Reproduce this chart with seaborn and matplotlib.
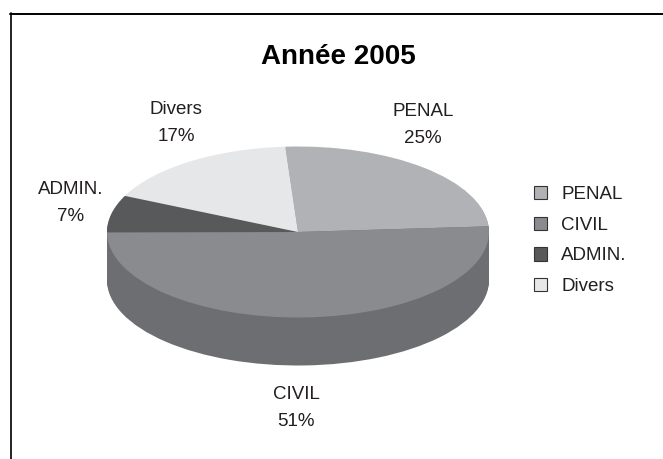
import matplotlib
matplotlib.use("Agg")
import matplotlib.pyplot as plt
from matplotlib.patches import Patch
import seaborn as sns

sns.set_theme(style="white")
plt.rcParams['font.family'] = ['Liberation Sans', 'DejaVu Sans']

title = "Année 2005"
categories = ["PENAL", "CIVIL", "ADMIN.", "Divers"]
values = [25, 51, 7, 17]
colors = ["#b1b2b5", "#8a8b8e", "#58595b", "#e6e7e8"]
wall_color = "#6d6e71"

W, H = 663, 459
cx, cy, rx, ry, depth = 298, 232, 191, 85.5, 48

fig = plt.figure(figsize=(W / 100, H / 100), dpi=100, facecolor="white")
ax = fig.add_axes([0, 0, 1, 1])

# side wall: the same pie stacked downwards
for d in range(depth, 0, -1):
    ax.pie(values, colors=[wall_color] * len(values), startangle=93.8,
           counterclock=False, center=(0, -d / ry), radius=1,
           wedgeprops=dict(linewidth=0))
# top face
wedges, _ = ax.pie(values, colors=colors, startangle=93.8, counterclock=False,
                   center=(0, 0), radius=1, wedgeprops=dict(linewidth=0))

ax.set_aspect("auto")
ax.set_xlim(-cx / rx, (W - cx) / rx)
ax.set_ylim(-(H - cy) / ry, cy / ry)
ax.axis("off")

# frame (open at the bottom and right, cropped from the source page)
fig.add_artist(plt.Line2D([10.5 / W, 10.5 / W], [0, 1 - 13 / H], color="#111111", lw=1.3))
fig.add_artist(plt.Line2D([10 / W, 1], [1 - 13.5 / H, 1 - 13.5 / H], color="black", lw=1.4))

fig.text(338.5 / W, 1 - 57 / H, title, ha="center", va="center",
         fontsize=20, fontweight="bold", color="black")

label_pos = [(423, 125), (296, 408), (71, 203), (176, 123)]
for cat, val, (x, y) in zip(categories, values, label_pos):
    fig.text(x / W, 1 - y / H, f"{cat}\n{val}%", ha="center", va="center",
             fontsize=13.5, color="#231f20", linespacing=1.7)

handles = [Patch(facecolor=c, edgecolor="#333333", linewidth=0.8) for c in colors]
ax.legend(handles, categories, loc="center left", bbox_to_anchor=(533.5 / W, 1 - 240.5 / H),
          bbox_transform=fig.transFigure, frameon=False, fontsize=13.5,
          labelcolor="#231f20", handlelength=0.72, handleheight=0.72,
          handletextpad=0.75, labelspacing=0.72, borderpad=0, borderaxespad=0)

fig.savefig("out.png", dpi=100, facecolor="white")
